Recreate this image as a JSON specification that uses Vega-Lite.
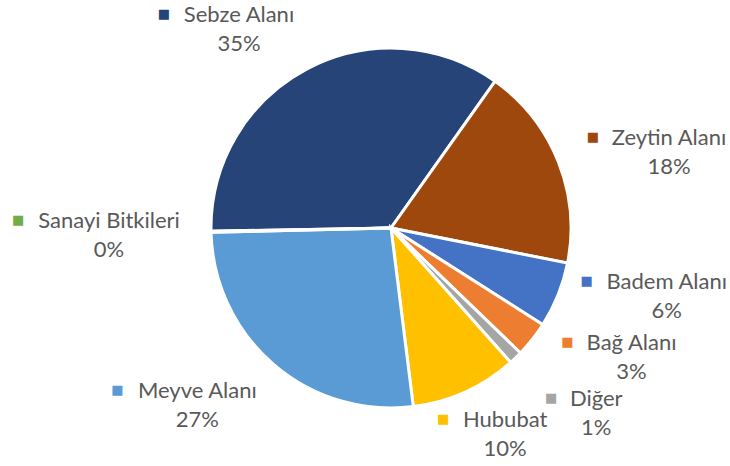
{
  "$schema": "https://vega.github.io/schema/vega-lite/v6.json",
  "width": 678,
  "height": 456,
  "autosize": {"type": "none"},
  "padding": {"left": 52, "right": 0, "top": 0, "bottom": 10},
  "background": "white",
  "config": {"view": {"stroke": null}},
  "data": {
    "values": [
      {"order": 1, "name": "Sebze Alanı", "value": 0.351},
      {"order": 2, "name": "Zeytin Alanı", "value": 0.183},
      {"order": 3, "name": "Badem Alanı", "value": 0.059},
      {"order": 4, "name": "Bağ Alanı", "value": 0.032},
      {"order": 5, "name": "Diğer", "value": 0.012},
      {"order": 6, "name": "Hububat", "value": 0.096},
      {"order": 7, "name": "Meyve Alanı", "value": 0.266},
      {"order": 8, "name": "Sanayi Bitkileri", "value": 0.001}
    ]
  },
  "encoding": {
    "theta": {"field": "value", "type": "quantitative", "stack": true, "scale": {"range": [4.6949, 10.9781]}},
    "order": {"field": "order", "type": "quantitative"},
    "color": {
      "field": "name", "type": "nominal", "legend": null,
      "scale": {
        "domain": ["Sebze Alanı", "Zeytin Alanı", "Badem Alanı", "Bağ Alanı", "Diğer", "Hububat", "Meyve Alanı", "Sanayi Bitkileri"],
        "range": ["#264478", "#9E480E", "#4472C4", "#ED7D31", "#A5A5A5", "#FFC000", "#5B9BD5", "#70AD47"]
      }
    }
  },
  "layer": [
    {"mark": {"type": "arc", "outerRadius": 180, "stroke": "white", "strokeWidth": 3}},
    {
      "mark": {
        "type": "text", "radius": 240, "font": "Lato", "fontSize": 22, "fill": "#595959",
        "align": "center", "baseline": "middle",
        "dx": {"expr": "[-40,55,53,52,39,15,-37,-42][datum.order-1]"},
        "dy": {"expr": "[13,13,-21,-20,12,-13,-5,2][datum.order-1] - 14"}
      },
      "encoding": {"text": {"field": "name", "type": "nominal"}, "color": {"value": "#595959"}}
    },
    {
      "mark": {
        "type": "text", "radius": 240, "font": "Lato", "fontSize": 22, "fill": "#595959",
        "align": "center", "baseline": "middle",
        "dx": {"expr": "[-40,55,53,52,39,15,-37,-42][datum.order-1]"},
        "dy": {"expr": "[13,13,-21,-20,12,-13,-5,2][datum.order-1] + 15"}
      },
      "encoding": {"text": {"field": "value", "type": "quantitative", "format": ".0%"}, "color": {"value": "#595959"}}
    },
    {
      "mark": {
        "type": "text", "radius": 240, "font": "DejaVu Sans", "fontSize": 13,
        "align": "center", "baseline": "middle",
        "dx": {"expr": "[-115,-21,-27,-12,-6,-47,-117,-133][datum.order-1]"},
        "dy": {"expr": "[13,13,-21,-20,12,-13,-5,2][datum.order-1] - 15"}
      },
      "encoding": {"text": {"value": "■"}}
    }
  ]
}
